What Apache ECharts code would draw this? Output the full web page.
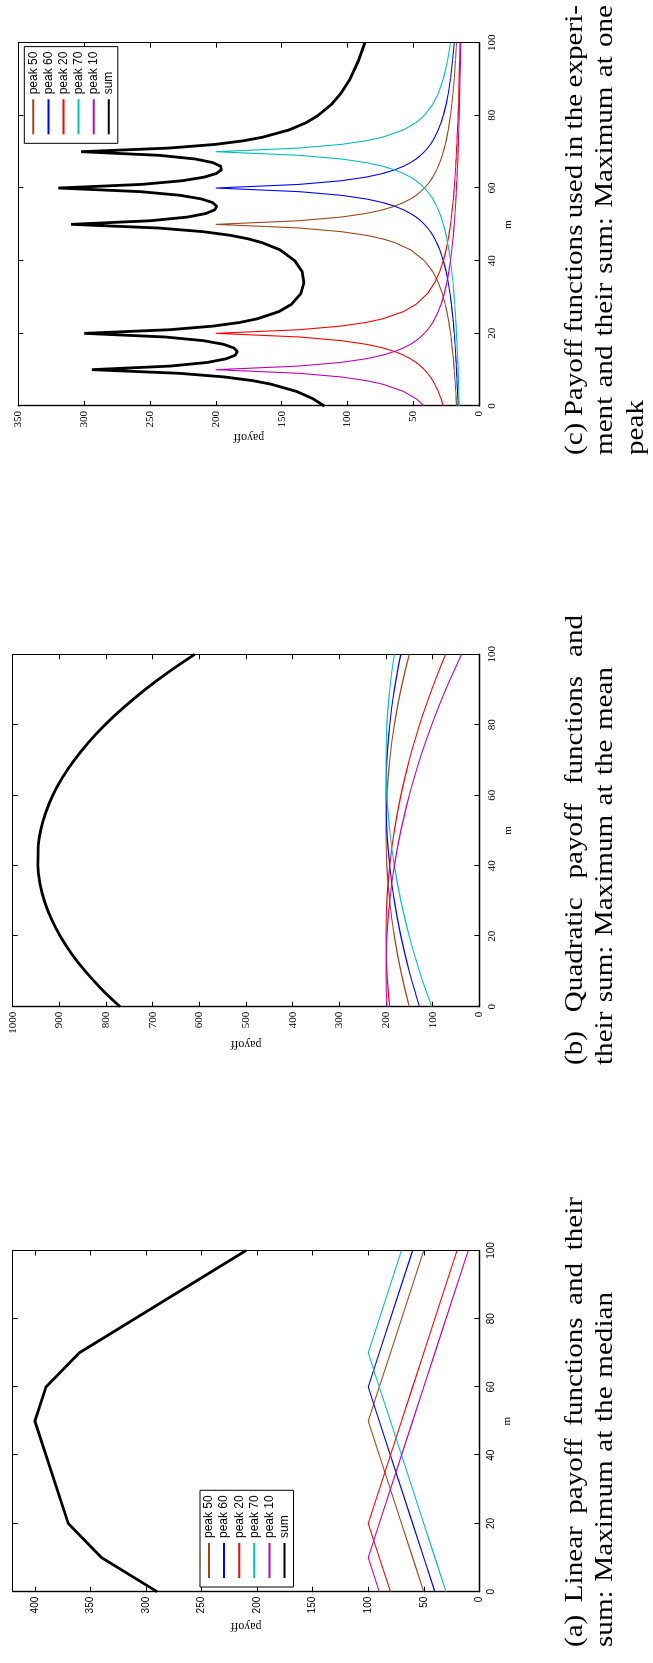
<!DOCTYPE html>
<html><head><meta charset="utf-8">
<script src="https://cdn.jsdelivr.net/npm/echarts/dist/echarts.min.js"></script>
<style>
html,body{margin:0;padding:0;width:653px;height:1663px;overflow:hidden;background:#fff;}
#wrap{position:absolute;left:0;top:0;width:653px;height:1663px;overflow:hidden;background:#fff;}
#chart{position:absolute;left:0;top:1663px;width:1663px;height:653px;transform-origin:0 0;transform:rotate(-90deg);}
</style></head><body><div id="wrap"><div id="chart"></div></div>
<script>
// ---------- data ----------
const seriesNames = ['peak 50', 'peak 60', 'peak 20', 'peak 70', 'peak 10', 'sum'];

// (a) linear payoff
const xsA = [0, 10, 20, 50, 60, 70, 100];
const linPeak50 = [50, 60, 70, 100, 90, 80, 50];
const linPeak60 = [40, 50, 60, 90, 100, 90, 60];
const linPeak20 = [80, 90, 100, 70, 60, 50, 20];
const linPeak70 = [30, 40, 50, 80, 90, 100, 70];
const linPeak10 = [90, 100, 90, 60, 50, 40, 10];
const linSum = [290, 340, 370, 400, 390, 360, 210];

// (b) quadratic payoff
const xsB = [0, 5, 10, 15, 20, 25, 30, 35, 40, 45, 50, 55, 60, 65, 70, 75, 80, 85, 90, 95, 100];
const quadPeak50 = [150, 159.5, 168, 175.5, 182, 187.5, 192, 195.5, 198, 199.5, 200, 199.5, 198, 195.5, 192, 187.5, 182, 175.5, 168, 159.5, 150];
const quadPeak60 = [128, 139.5, 150, 159.5, 168, 175.5, 182, 187.5, 192, 195.5, 198, 199.5, 200, 199.5, 198, 195.5, 192, 187.5, 182, 175.5, 168];
const quadPeak20 = [192, 195.5, 198, 199.5, 200, 199.5, 198, 195.5, 192, 187.5, 182, 175.5, 168, 159.5, 150, 139.5, 128, 115.5, 102, 87.5, 72];
const quadPeak70 = [102, 115.5, 128, 139.5, 150, 159.5, 168, 175.5, 182, 187.5, 192, 195.5, 198, 199.5, 200, 199.5, 198, 195.5, 192, 187.5, 182];
const quadPeak10 = [198, 199.5, 200, 199.5, 198, 195.5, 192, 187.5, 182, 175.5, 168, 159.5, 150, 139.5, 128, 115.5, 102, 87.5, 72, 55.5, 38];
const quadSum = [770, 809.5, 844, 873.5, 898, 917.5, 932, 941.5, 946, 945.5, 940, 929.5, 914, 893.5, 868, 837.5, 802, 761.5, 716, 665.5, 610];

// (c) payoff used in the experiment
const xsC = [0,2,4,6,7,8,9,10,11,12,13,14,15,16,17,18,19,20,21,22,23,24,26,28,31,34,37,40,43,45,46,47,48,49,50,51,52,53,54,55,56,57,58,59,60,61,62,63,64,65,66,67,68,69,70,71,72,73,74,76,78,80,83,86,90,95,100];
const hypPeak50 = [17.3,17.6,17.9,18.3,18.4,18.6,18.8,19,19.3,19.5, 19.7,20,20.3,20.6,20.9,21.2,21.5,21.9,22.3,22.7, 23.1,23.6,24.6,25.8,28.1,31.1,35.3,41.7,52.2,64.3, 73.3,86,105,136.7,200,136.7,105,86,73.3,64.3, 57.5,52.2,48,44.5,41.7,39.2,37.1,35.3,33.8,32.4, 31.1,30,29,28.1,27.3,26.5,25.8,25.2,24.6,23.6, 22.7,21.9,20.9,20,19,18.1,17.3];
const hypPeak60 = [16.1,16.3,16.6,16.8,16.9,17.0,17.2,17.3,17.5,17.6, 17.8,17.9,18.1,18.3,18.4,18.6,18.8,19,19.3,19.5, 19.7,20,20.6,21.2,22.3,23.6,25.2,27.3,30,32.4, 33.8,35.3,37.1,39.2,41.7,44.5,48,52.2,57.5,64.3, 73.3,86,105,136.7,200,136.7,105,86,73.3,64.3, 57.5,52.2,48,44.5,41.7,39.2,37.1,35.3,33.8,31.1, 29,27.3,25.2,23.6,21.9,20.3,19];
const hypPeak20 = [27.3,29,31.1,33.8,35.3,37.1,39.2,41.7,44.5,48, 52.2,57.5,64.3,73.3,86,105,136.7,200,136.7,105, 86,73.3,57.5,48,39.2,33.8,30,27.3,25.2,24.1, 23.6,23.1,22.7,22.3,21.9,21.5,21.2,20.9,20.6,20.3, 20,19.7,19.5,19.3,19,18.8,18.6,18.4,18.3,18.1, 17.9,17.8,17.6,17.5,17.3,17.2,17.0,16.9,16.8,16.6, 16.3,16.1,15.8,15.6,15.3,14.9,14.6];
const hypPeak70 = [15.3,15.4,15.6,15.8,15.8,15.9,16.0,16.1,16.2,16.3, 16.4,16.6,16.7,16.8,16.9,17.0,17.2,17.3,17.5,17.6, 17.8,17.9,18.3,18.6,19.3,20,20.9,21.9,23.1,24.1, 24.6,25.2,25.8,26.5,27.3,28.1,29,30,31.1,32.4, 33.8,35.3,37.1,39.2,41.7,44.5,48,52.2,57.5,64.3, 73.3,86,105,136.7,200,136.7,105,86,73.3,57.5, 48,41.7,35.3,31.1,27.3,24.1,21.9];
const hypPeak10 = [41.7,48,57.5,73.3,86,105,136.7,200,136.7,105, 86,73.3,64.3,57.5,52.2,48,44.5,41.7,39.2,37.1, 35.3,33.8,31.1,29,26.5,24.6,23.1,21.9,20.9,20.3, 20,19.7,19.5,19.3,19,18.8,18.6,18.4,18.3,18.1, 17.9,17.8,17.6,17.5,17.3,17.2,17.0,16.9,16.8,16.7, 16.6,16.4,16.3,16.2,16.1,16.0,15.9,15.8,15.8,15.6, 15.4,15.3,15.1,14.9,14.6,14.4,14.1];
const hypSum = [117.7,126.3,138.7,158.0,172.4,193.6,227.9,294.1,234.2,206.4, 192.1,185.3,183.7,186.5,194.4,209.8,238.7,299.9,235.0,201.9, 181.9,168.6,152.1,142.6,135.4,133.1,134.5,140.1,151.4,165.2, 175.3,189.3,210.1,244.0,309.9,249.6,221.8,207.5,200.8,199.4, 202.5,211.0,227.2,257.2,319.7,256.4,225.7,208.8,199.7,195.8, 196.4,202.4,215.9,243.0,302.4,235.6,200.8,179.2,164.3,144.4, 131.4,122.3,112.3,105.2,98.1,91.8,86.9];

// axes
const xTicks = {min: 0, max: 100, interval: 20};
const yAxesSpec = [{max: 420, interval: 50}, {max: 1000, interval: 100}, {max: 350, interval: 50}];
const axisNames = {x: 'm', y: 'payoff'};

// captions
const captionA = ['(a) Linear payoff functions and their', 'sum: Maximum at the median'];
const captionB = ['(b) Quadratic payoff functions and', 'their sum: Maximum at the mean'];
const captionC = ['(c) Payoff functions used in the experi-', 'ment and their sum: Maximum at one', 'peak'];

// ---------- styling / layout ----------
const SANS = '"Liberation Sans", Arial, sans-serif';
const SERIF = '"Liberation Serif", "Times New Roman", serif';
const colors = ['#a0461a', '#0000ff', '#ff0000', '#00bfbf', '#bf00bf', '#000000'];
const widths = [1.1, 1.1, 1.1, 1.1, 1.1, 2.8];

const grids = [
  {left: 71.3, top: 12.7, width: 341.2, height: 466.6},
  {left: 656.3, top: 12.7, width: 352.4, height: 466.6},
  {left: 1257, top: 18.3, width: 363.3, height: 461}
];
const labelFonts = [{f: SANS, s: 10}, {f: SERIF, s: 11}, {f: SERIF, s: 11}];
const yNameGaps = [28, 31, 25];

const chartData = [
  {xs: xsA, ys: [linPeak50, linPeak60, linPeak20, linPeak70, linPeak10, linSum], smooth: false},
  {xs: xsB, ys: [quadPeak50, quadPeak60, quadPeak20, quadPeak70, quadPeak10, quadSum], smooth: 0.3},
  {xs: xsC, ys: [hypPeak50, hypPeak60, hypPeak20, hypPeak70, hypPeak10, hypSum], smooth: false}
];

const plainNum = v => String(v);
const xAxis = [], yAxis = [], series = [];
grids.forEach((g, i) => {
  const lf = labelFonts[i];
  const tick = {show: true, inside: true, length: 5, lineStyle: {color: '#000', width: 1}};
  xAxis.push({
    gridIndex: i, type: 'value', min: xTicks.min, max: xTicks.max, interval: xTicks.interval, position: 'bottom',
    axisLine: {show: true, onZero: false, lineStyle: {color: '#000', width: 1.4}},
    axisTick: tick, splitLine: {show: false},
    axisLabel: {show: true, margin: 7, color: '#000', fontFamily: lf.f, fontSize: lf.s, formatter: plainNum},
    name: axisNames.x, nameLocation: 'middle', nameGap: 17,
    nameTextStyle: {fontFamily: SERIF, fontSize: 11, color: '#000'}
  });
  xAxis.push({
    gridIndex: i, type: 'value', min: xTicks.min, max: xTicks.max, interval: xTicks.interval, position: 'top',
    axisLine: {show: true, onZero: false, lineStyle: {color: '#000', width: 1}},
    axisTick: tick, splitLine: {show: false}, axisLabel: {show: false}
  });
  const ys = yAxesSpec[i];
  yAxis.push({
    gridIndex: i, type: 'value', min: 0, max: ys.max, interval: ys.interval, position: 'left',
    axisLine: {show: true, onZero: false, lineStyle: {color: '#000', width: 1.4}},
    axisTick: tick, splitLine: {show: false},
    axisLabel: {show: true, margin: 5, color: '#000', fontFamily: lf.f, fontSize: lf.s, formatter: plainNum,
      showMaxLabel: (ys.max % ys.interval === 0)},
    name: axisNames.y, nameLocation: 'middle', nameGap: yNameGaps[i],
    nameTextStyle: {fontFamily: SERIF, fontSize: 12, color: '#000'}
  });
  yAxis.push({
    gridIndex: i, type: 'value', min: 0, max: ys.max, interval: ys.interval, position: 'right',
    axisLine: {show: true, onZero: false, lineStyle: {color: '#000', width: 1}},
    axisTick: tick, splitLine: {show: false}, axisLabel: {show: false}
  });
  const cd = chartData[i];
  seriesNames.forEach((name, k) => {
    series.push({
      type: 'line', name: name, xAxisIndex: 2 * i, yAxisIndex: 2 * i,
      data: cd.xs.map((x, j) => [x, cd.ys[k][j]]),
      symbol: 'none', showSymbol: false, smooth: cd.smooth,
      lineStyle: {color: colors[k], width: widths[k]},
      itemStyle: {color: colors[k]},
      emphasis: {disabled: true}, silent: true, animation: false, z: 2 + (k === 5 ? 1 : 0)
    });
  });
});

function legendAt(left, top) {
  return {
    data: seriesNames, orient: 'vertical', left: left, top: top,
    itemWidth: 35, itemHeight: 12, itemGap: 3.1, padding: [3, 5, 3, 8],
    borderColor: '#000', borderWidth: 1, borderRadius: 0, backgroundColor: '#fff',
    selectedMode: false,
    itemStyle: {opacity: 0, borderWidth: 0},
    textStyle: {fontFamily: SANS, fontSize: 12, color: '#000'}
  };
}

// ---------- captions (layout of words) ----------
const CAP_SIZE = 26;
const CAP_FONT = CAP_SIZE + 'px "Liberation Serif"';
const CAP_STRETCH = 1.12;
const capLayout = [
  {text: captionA, u0: 16, w: [450, 355], v: [575, 605.5, 636]},
  {text: captionB, u0: 598, w: [450, 398], v: [575, 605.5, 636]},
  {text: captionC, u0: 1208, w: [450, 450, null], v: [575, 605.5, 636]}
];
const mctx = document.createElement('canvas').getContext('2d');
mctx.font = CAP_FONT;
const graphics = [];
capLayout.forEach(c => {
  c.text.forEach((line, li) => {
    const words = line.split(' ');
    const ww = words.map(w => mctx.measureText(w).width * CAP_STRETCH);
    const total = ww.reduce((a, b) => a + b, 0);
    let gap = mctx.measureText(' ').width * CAP_STRETCH;
    if (c.w[li] && words.length > 1) gap = (c.w[li] - total) / (words.length - 1);
    let u = c.u0;
    words.forEach((w, wi) => {
      graphics.push({
        type: 'text', x: u, y: c.v[li], scaleX: CAP_STRETCH, silent: true,
        style: {text: w, font: CAP_FONT, fill: '#000', textAlign: 'left', textVerticalAlign: 'middle'}
      });
      u += ww[wi] + gap;
    });
  });
});

const chart = echarts.init(document.getElementById('chart'), null, {renderer: 'canvas', width: 1663, height: 653});
chart.setOption({
  animation: false,
  backgroundColor: '#fff',
  grid: grids.map(g => Object.assign({containLabel: false, outerBoundsMode: 'none'}, g)),
  xAxis: xAxis, yAxis: yAxis, series: series,
  legend: [legendAt(76, 200), legendAt(1519.7, 24.3)],
  graphic: {elements: graphics}
});
</script></body></html>
